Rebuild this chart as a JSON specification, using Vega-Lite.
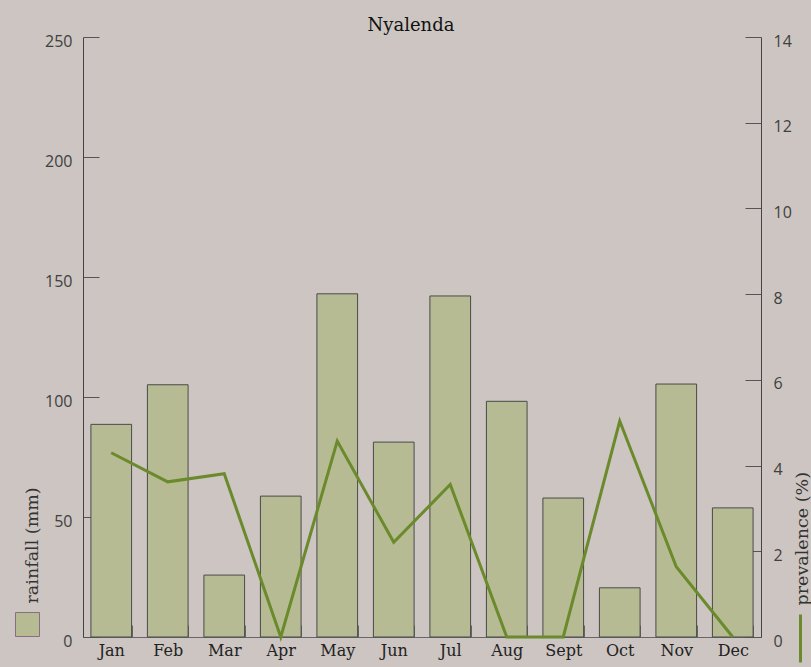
{
  "$schema": "https://vega.github.io/schema/vega-lite/v6.json",
  "width": 678,
  "height": 600,
  "autosize": {"type": "none"},
  "padding": {"left": 83, "top": 37, "right": 50, "bottom": 30},
  "background": "#ccc5c1",
  "title": {"text": "Nyalenda", "font": "DejaVu Serif", "fontSize": 18, "fontWeight": "normal", "color": "#111111", "frame": "group", "anchor": "middle", "dx": -11, "baseline": "alphabetic", "offset": 6, "dy": 22},
  "config": {
    "view": {"stroke": null},
    "axis": {"grid": false, "domainColor": "#444444", "tickColor": "#555555", "domainWidth": 1, "tickWidth": 1}
  },
  "data": {"values": [
    {"month": "Jan", "rainfall": 88.6, "prevalence": 4.30},
    {"month": "Feb", "rainfall": 105.1, "prevalence": 3.62},
    {"month": "Mar", "rainfall": 25.8, "prevalence": 3.81},
    {"month": "Apr", "rainfall": 58.7, "prevalence": 0},
    {"month": "May", "rainfall": 143.0, "prevalence": 4.57},
    {"month": "Jun", "rainfall": 81.2, "prevalence": 2.21},
    {"month": "Jul", "rainfall": 142.1, "prevalence": 3.56},
    {"month": "Aug", "rainfall": 98.2, "prevalence": 0},
    {"month": "Sept", "rainfall": 57.9, "prevalence": 0},
    {"month": "Oct", "rainfall": 20.5, "prevalence": 5.04},
    {"month": "Nov", "rainfall": 105.4, "prevalence": 1.64},
    {"month": "Dec", "rainfall": 53.8, "prevalence": 0}
  ]},
  "layer": [
    {
      "mark": {"type": "bar", "stroke": "#4a4a4a", "strokeWidth": 1},
      "encoding": {
        "x": {
          "field": "month", "type": "ordinal", "sort": null,
          "scale": {"paddingInner": 0.28, "paddingOuter": 0.14},
          "axis": {"title": null, "labelAngle": 0, "tickBand": "extent", "tickSize": -12, "labelPadding": 17, "labelFont": "DejaVu Serif", "labelFontSize": 16, "labelColor": "#222222", "tickColor": "#666666", "domainColor": "#666666"}
        },
        "y": {
          "field": "rainfall", "type": "quantitative",
          "scale": {"domain": [0, 250]},
          "axis": {"values": [0, 50, 100, 150, 200, 250], "tickSize": -16, "labelPadding": 27, "labelOffset": 4, "labelFont": "Open Sans", "labelFontSize": 16, "labelColor": "#404040",
            "title": "rainfall (mm)", "titleFont": "DejaVu Serif", "titleFontSize": 17.5, "titleFontWeight": "normal", "titleColor": "#333333", "titleAngle": -90, "titleAlign": "left", "titleBaseline": "alphabetic", "titleX": -46, "titleY": 566}
        },
        "fill": {
          "datum": "rainfall",
          "scale": {"range": ["#b7bb93"]},
          "legend": {"orient": "none", "legendX": -68, "legendY": 575, "title": null, "padding": 0, "labelExpr": "''", "labelFontSize": 1, "symbolType": "square", "symbolSize": 576, "symbolStrokeColor": "#8a6d80", "symbolStrokeWidth": 1}
        }
      }
    },
    {
      "mark": {"type": "line", "strokeWidth": 3},
      "encoding": {
        "x": {"field": "month", "type": "ordinal", "sort": null},
        "y": {
          "field": "prevalence", "type": "quantitative",
          "scale": {"domain": [0, 14]},
          "axis": {"orient": "right", "values": [0, 2, 4, 6, 8, 10, 12, 14], "tickSize": -16, "labelPadding": 28, "labelOffset": 4, "labelFont": "Open Sans", "labelFontSize": 16, "labelColor": "#404040",
            "title": "prevalence (%)", "titleFont": "DejaVu Serif", "titleFontSize": 17.5, "titleFontWeight": "normal", "titleColor": "#333333", "titleAngle": -90, "titleAlign": "left", "titleBaseline": "alphabetic", "titleX": 46, "titleY": 568}
        },
        "stroke": {
          "datum": "prevalence",
          "scale": {"range": ["#6a8a2c"]},
          "legend": {"orient": "none", "legendX": 692, "legendY": 576, "title": null, "padding": 0, "labelExpr": "''", "labelFontSize": 1, "symbolType": "M0,-1L0,1", "symbolSize": 2304, "symbolStrokeWidth": 3}
        }
      }
    }
  ],
  "resolve": {"scale": {"y": "independent"}}
}
